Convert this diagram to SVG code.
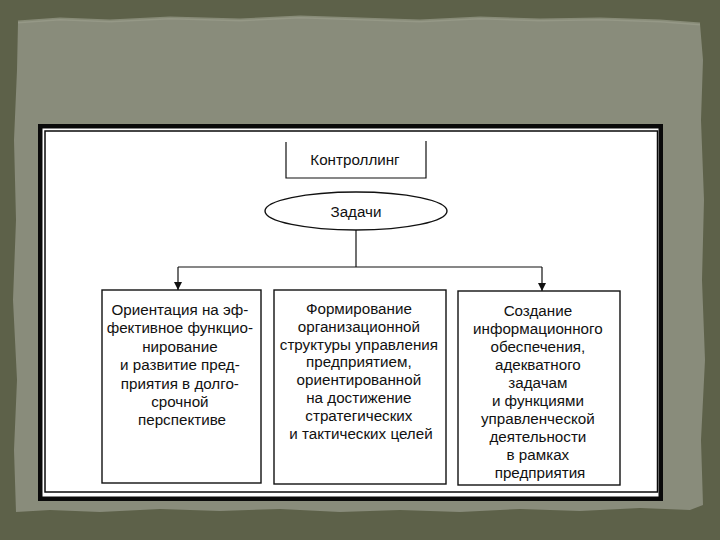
<svg xmlns="http://www.w3.org/2000/svg" width="720" height="540" viewBox="0 0 720 540">
  <defs>
    <style>
      .txt { font-family: "Liberation Sans", Arial, sans-serif; font-size: 15.2px; fill: #111; text-anchor: middle; }
      .node { fill: #ffffff; stroke: #111; stroke-width: 1.4; }
      .conn { fill: none; stroke: #111; stroke-width: 1.2; }
    </style>
    <marker id="arrow" viewBox="0 0 10 10" refX="10" refY="5" markerWidth="8" markerHeight="8" markerUnits="userSpaceOnUse" orient="auto">
      <path d="M0,0 L10,5 L0,10 Z" fill="#111"/>
    </marker>
  </defs>

  <!-- background -->
  <rect x="0" y="0" width="720" height="540" fill="#5d6149"/>
  <path d="M18,22 L60,19 L110,21 L170,18 L240,20 L300,17 L360,19 L420,21 L480,18 L540,20 L600,19 L660,21 L700,24 L703,60 L701,120 L704,200 L702,280 L705,360 L701,440 L703,505 L690,510 L640,508 L580,511 L520,509 L460,512 L400,510 L340,512 L280,509 L220,511 L160,509 L100,512 L50,510 L16,512 L14,450 L17,380 L13,300 L16,220 L14,140 L17,70 Z" fill="#898c7b"/>
  <path d="M18,22 L60,19 L110,21 L170,18 L240,20 L300,17 L360,19 L420,21 L480,18 L540,20 L600,19 L660,21 L700,24" fill="none" stroke="#9a9d8c" stroke-width="3" opacity="0.7"/>

  <!-- frame -->
  <rect x="40.25" y="126.25" width="620.5" height="372.5" fill="#ffffff" stroke="#0a0a0a" stroke-width="4.5"/>
  <rect x="45" y="131" width="612.5" height="361" fill="none" stroke="#0a0a0a" stroke-width="1.5"/>

  <!-- connectors -->
  <g id="connectors">
    <line class="conn" x1="356" y1="230" x2="356" y2="267"/>
    <line class="conn" x1="178" y1="267" x2="542" y2="267"/>
    <line class="conn" x1="178" y1="267" x2="178" y2="290" marker-end="url(#arrow)"/>
    <line class="conn" x1="542" y1="267" x2="542" y2="291" marker-end="url(#arrow)"/>
  </g>

  <g id="node-controlling">
    <rect x="286" y="141" width="140" height="37" fill="#ffffff"/>
    <path class="conn" d="M286,142 V178 H426 V141" stroke-width="1.4"/>
    <text class="txt" x="355" y="165">Контроллинг</text>
  </g>

  <g id="node-tasks">
    <ellipse class="node" cx="356" cy="211" rx="91" ry="19"/>
    <text class="txt" x="356" y="216.5">Задачи</text>
  </g>

  <g id="node-orientation">
    <rect class="node" x="102" y="290" width="159" height="193"/>
    <text class="txt" x="182">
      <tspan x="182" y="315">Ориентация на эф-</tspan>
      <tspan x="182" y="333.4">фективное функцио-</tspan>
      <tspan x="182" y="351.8">нирование</tspan>
      <tspan x="182" y="370.2">и развитие пред-</tspan>
      <tspan x="182" y="388.6">приятия в долго-</tspan>
      <tspan x="182" y="407">срочной</tspan>
      <tspan x="182" y="425.4">перспективе</tspan>
    </text>
  </g>

  <g id="node-structure">
    <rect class="node" x="274" y="290" width="172" height="194"/>
    <text class="txt" x="361">
      <tspan x="361" y="314">Формирование</tspan>
      <tspan x="361" y="331.8">организационной</tspan>
      <tspan x="361" y="349.6">структуры управления</tspan>
      <tspan x="361" y="367.4">предприятием,</tspan>
      <tspan x="361" y="385.2">ориентированной</tspan>
      <tspan x="361" y="403">на достижение</tspan>
      <tspan x="361" y="420.8">стратегических</tspan>
      <tspan x="361" y="438.6">и тактических целей</tspan>
    </text>
  </g>

  <g id="node-information">
    <rect class="node" x="458" y="291" width="162" height="194"/>
    <text class="txt" x="540">
      <tspan x="540" y="316">Создание</tspan>
      <tspan x="540" y="334">информационного</tspan>
      <tspan x="540" y="352">обеспечения,</tspan>
      <tspan x="540" y="370">адекватного</tspan>
      <tspan x="540" y="388">задачам</tspan>
      <tspan x="540" y="406">и функциями</tspan>
      <tspan x="540" y="424">управленческой</tspan>
      <tspan x="540" y="442">деятельности</tspan>
      <tspan x="540" y="460">в рамках</tspan>
      <tspan x="540" y="478">предприятия</tspan>
    </text>
  </g>
</svg>
